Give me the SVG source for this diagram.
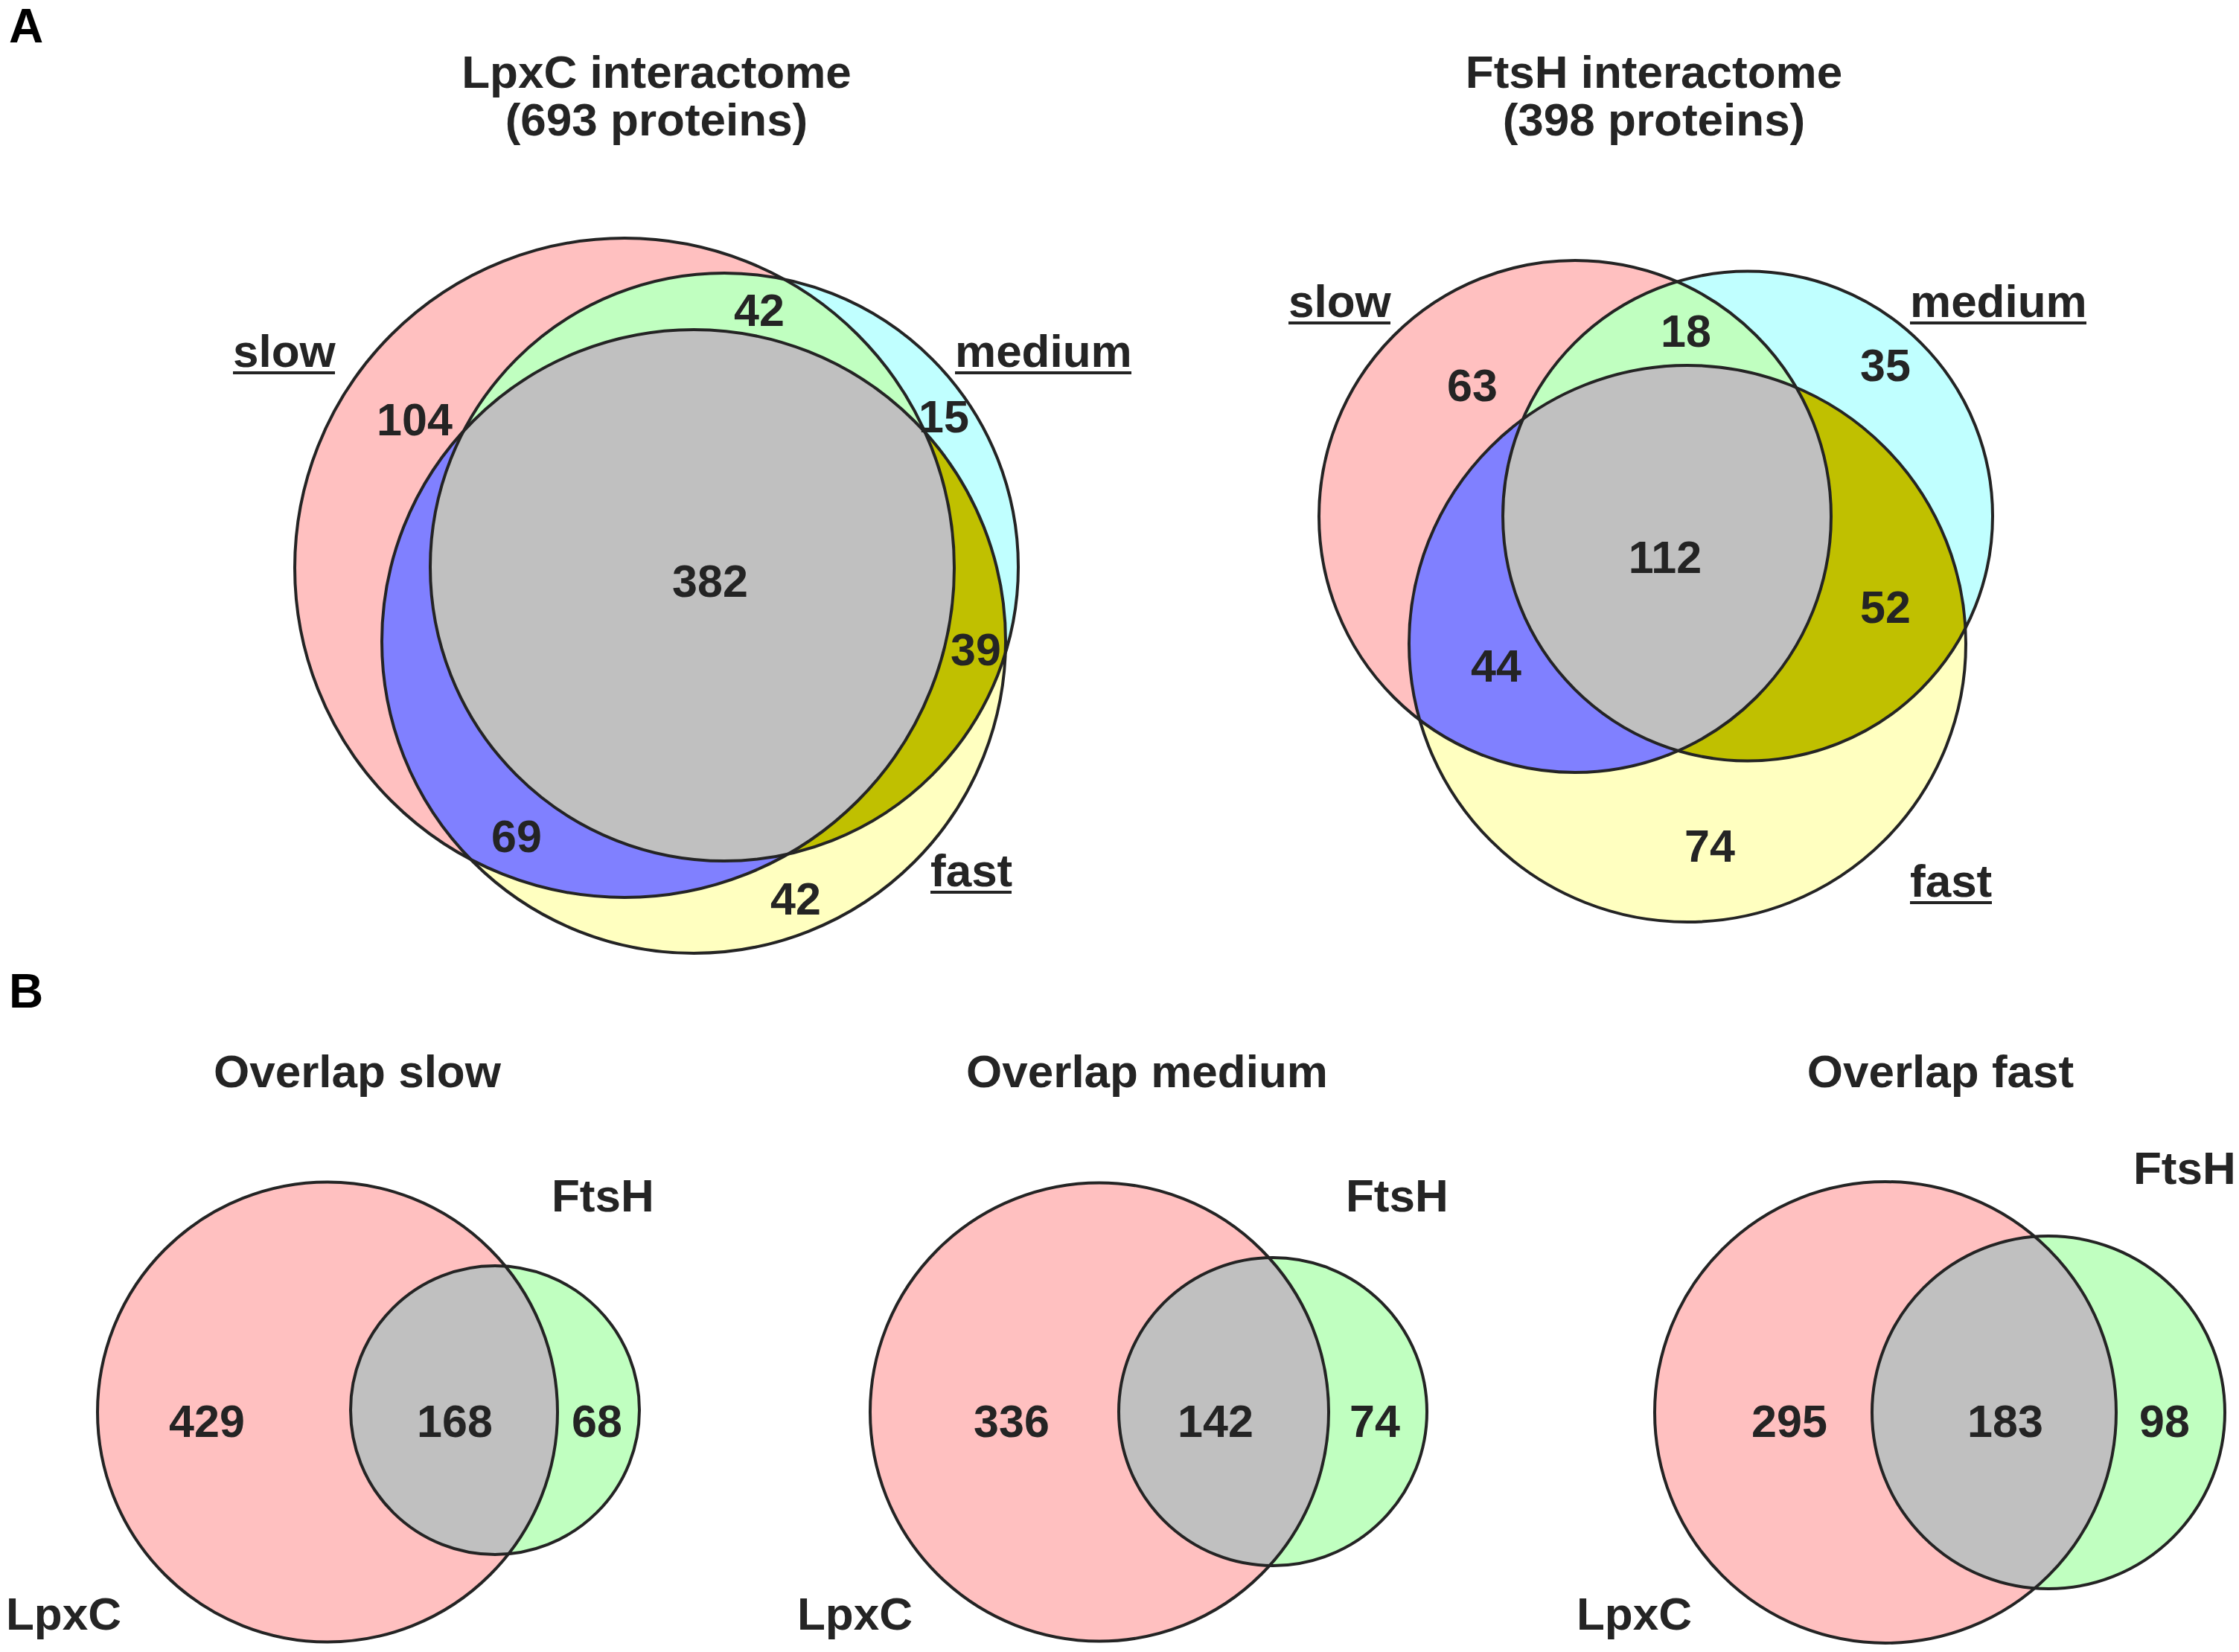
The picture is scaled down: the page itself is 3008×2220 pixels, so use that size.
<svg xmlns="http://www.w3.org/2000/svg" width="3008" height="2220" viewBox="0 0 3008 2220">
<style>
.t{font-family:"Liberation Sans",Arial,Helvetica,sans-serif;font-weight:bold;font-size:62px;fill:#242424}
.n{text-anchor:middle;font-size:61px}
.m{text-anchor:middle}
.p{font-size:64px;fill:#000000}
.o{fill:none;stroke:#242424;stroke-width:4}
.ul{stroke:#242424;stroke-width:4}
.pink{fill:#FFC0C0}.cyan{fill:#C0FFFF}.yellow{fill:#FFFFC0}.green{fill:#C0FFC0}.blue{fill:#8080FF}.olive{fill:#C0C000}.gray{fill:#C0C0C0}
</style>
<defs>
<clipPath id="cS1"><circle cx="839" cy="763" r="443"/></clipPath>
<clipPath id="cM1"><circle cx="973" cy="762" r="395"/></clipPath>
<clipPath id="cS2"><circle cx="2116" cy="694" r="344"/></clipPath>
<clipPath id="cM2"><circle cx="2348" cy="693.5" r="329"/></clipPath>
<clipPath id="cBL1"><circle cx="440" cy="1897.5" r="309"/></clipPath>
<clipPath id="cBL2"><circle cx="1477" cy="1897.5" r="308"/></clipPath>
<clipPath id="cBL3"><circle cx="2533" cy="1898" r="310"/></clipPath>
</defs>
<rect width="3008" height="2220" fill="#FFFFFF"/>

<text class="t p" x="12" y="57">A</text>
<text class="t p" x="12" y="1354">B</text>

<!-- Panel A left: LpxC interactome -->
<g id="venn-lpxc">
  <text class="t m" x="882" y="118">LpxC interactome</text>
  <text class="t m" x="882" y="182">(693 proteins)</text>
  <g id="lpxc-fills">
    <circle class="pink" cx="839" cy="763" r="443"/>
    <circle class="cyan" cx="973" cy="762" r="395"/>
    <circle class="yellow" cx="932" cy="862" r="419"/>
    <circle class="green" cx="973" cy="762" r="395" clip-path="url(#cS1)"/>
    <circle class="blue" cx="932" cy="862" r="419" clip-path="url(#cS1)"/>
    <circle class="olive" cx="932" cy="862" r="419" clip-path="url(#cM1)"/>
    <g clip-path="url(#cS1)"><circle class="gray" cx="932" cy="862" r="419" clip-path="url(#cM1)"/></g>
  </g>
  <g id="lpxc-slow"><circle class="o" cx="839" cy="763" r="443"/>
    <text class="t" x="313" y="493">slow</text><line class="ul" x1="313" y1="501" x2="450" y2="501"/></g>
  <g id="lpxc-medium"><circle class="o" cx="973" cy="762" r="395"/>
    <text class="t" x="1283" y="493">medium</text><line class="ul" x1="1283" y1="501" x2="1520" y2="501"/></g>
  <g id="lpxc-fast"><circle class="o" cx="932" cy="862" r="419"/>
    <text class="t" x="1250" y="1191">fast</text><line class="ul" x1="1250" y1="1199" x2="1359" y2="1199"/></g>
  <g id="lpxc-counts">
    <text class="t n" x="1020" y="438">42</text>
    <text class="t n" x="557" y="585">104</text>
    <text class="t n" x="1268" y="581">15</text>
    <text class="t n" x="954" y="802">382</text>
    <text class="t n" x="1311" y="894">39</text>
    <text class="t n" x="694" y="1145">69</text>
    <text class="t n" x="1069" y="1229">42</text>
  </g>
</g>

<!-- Panel A right: FtsH interactome -->
<g id="venn-ftsh">
  <text class="t m" x="2222" y="118">FtsH interactome</text>
  <text class="t m" x="2222" y="182">(398 proteins)</text>
  <g id="ftsh-fills">
    <circle class="pink" cx="2116" cy="694" r="344"/>
    <circle class="cyan" cx="2348" cy="693.5" r="329"/>
    <circle class="yellow" cx="2267" cy="865" r="374"/>
    <circle class="green" cx="2348" cy="693.5" r="329" clip-path="url(#cS2)"/>
    <circle class="blue" cx="2267" cy="865" r="374" clip-path="url(#cS2)"/>
    <circle class="olive" cx="2267" cy="865" r="374" clip-path="url(#cM2)"/>
    <g clip-path="url(#cS2)"><circle class="gray" cx="2267" cy="865" r="374" clip-path="url(#cM2)"/></g>
  </g>
  <g id="ftsh-slow"><circle class="o" cx="2116" cy="694" r="344"/>
    <text class="t" x="1731" y="426">slow</text><line class="ul" x1="1731" y1="434" x2="1868" y2="434"/></g>
  <g id="ftsh-medium"><circle class="o" cx="2348" cy="693.5" r="329"/>
    <text class="t" x="2566" y="426">medium</text><line class="ul" x1="2566" y1="434" x2="2803" y2="434"/></g>
  <g id="ftsh-fast"><circle class="o" cx="2267" cy="865" r="374"/>
    <text class="t" x="2566" y="1205">fast</text><line class="ul" x1="2566" y1="1213" x2="2676" y2="1213"/></g>
  <g id="ftsh-counts">
    <text class="t n" x="2265" y="466">18</text>
    <text class="t n" x="1978" y="539">63</text>
    <text class="t n" x="2533" y="512">35</text>
    <text class="t n" x="2237" y="770">112</text>
    <text class="t n" x="2533" y="837">52</text>
    <text class="t n" x="2010" y="916">44</text>
    <text class="t n" x="2297" y="1158">74</text>
  </g>
</g>

<!-- Panel B: Overlap slow -->
<g id="overlap-slow">
  <text class="t m" x="480" y="1461">Overlap slow</text>
  <circle class="pink" cx="440" cy="1897.5" r="309"/>
  <circle class="green" cx="665" cy="1895" r="194"/>
  <circle class="gray" cx="665" cy="1895" r="194" clip-path="url(#cBL1)"/>
  <g id="os-lpxc"><circle class="o" cx="440" cy="1897.5" r="309"/><text class="t" x="8" y="2190">LpxC</text></g>
  <g id="os-ftsh"><circle class="o" cx="665" cy="1895" r="194"/><text class="t" x="741" y="1628">FtsH</text></g>
  <text class="t n" x="278" y="1931">429</text>
  <text class="t n" x="611" y="1931">168</text>
  <text class="t n" x="802" y="1931">68</text>
</g>

<!-- Panel B: Overlap medium -->
<g id="overlap-medium">
  <text class="t m" x="1541" y="1461">Overlap medium</text>
  <circle class="pink" cx="1477" cy="1897.5" r="308"/>
  <circle class="green" cx="1710" cy="1897" r="207"/>
  <circle class="gray" cx="1710" cy="1897" r="207" clip-path="url(#cBL2)"/>
  <g id="om-lpxc"><circle class="o" cx="1477" cy="1897.5" r="308"/><text class="t" x="1071" y="2190">LpxC</text></g>
  <g id="om-ftsh"><circle class="o" cx="1710" cy="1897" r="207"/><text class="t" x="1808" y="1628">FtsH</text></g>
  <text class="t n" x="1359" y="1931">336</text>
  <text class="t n" x="1633" y="1931">142</text>
  <text class="t n" x="1847" y="1931">74</text>
</g>

<!-- Panel B: Overlap fast -->
<g id="overlap-fast">
  <text class="t m" x="2607" y="1461">Overlap fast</text>
  <circle class="pink" cx="2533" cy="1898" r="310"/>
  <circle class="green" cx="2752" cy="1898" r="237"/>
  <circle class="gray" cx="2752" cy="1898" r="237" clip-path="url(#cBL3)"/>
  <g id="of-lpxc"><circle class="o" cx="2533" cy="1898" r="310"/><text class="t" x="2118" y="2190">LpxC</text></g>
  <g id="of-ftsh"><circle class="o" cx="2752" cy="1898" r="237"/><text class="t" x="2866" y="1591">FtsH</text></g>
  <text class="t n" x="2404" y="1931">295</text>
  <text class="t n" x="2694" y="1931">183</text>
  <text class="t n" x="2908" y="1931">98</text>
</g>
</svg>
